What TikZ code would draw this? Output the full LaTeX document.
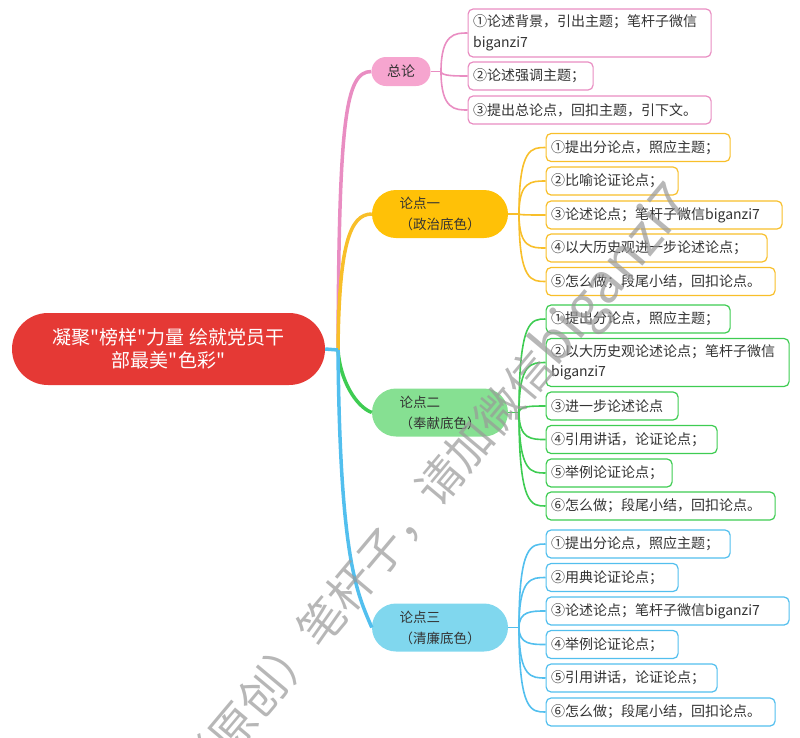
\documentclass[tikz,border=0pt]{standalone}
\usepackage{fontspec}
\setmainfont{Noto Sans CJK SC}
\newfontfamily\plainfont{Noto Sans CJK SC}
\usepackage{xcolor}

% Colours of the map
\definecolor{topicred}{HTML}{E53935}
\definecolor{pinkfill}{HTML}{F6A5CF}
\definecolor{pinkline}{HTML}{E98DC2}
\definecolor{yellowfill}{HTML}{FFC107}
\definecolor{yellowline}{HTML}{F8BF2A}
\definecolor{greenfill}{HTML}{86E092}
\definecolor{greenline}{HTML}{3ECC52}
\definecolor{bluefill}{HTML}{80D7EE}
\definecolor{blueline}{HTML}{52BFEE}
\definecolor{textgray}{HTML}{333333}

\tikzset{
  topicbox/.style={fill=topicred, text=white, rounded corners=36pt, minimum width=313pt,
    minimum height=72pt, align=center, font=\plainfont\fontsize{19}{23}\selectfont},
  pointbox/.style={fill=#1, text=textgray, rounded corners=24pt, minimum width=136pt,
    minimum height=48pt, align=left, font=\fontsize{13.5}{21}\selectfont},
  leafbox/.style={draw=#1, fill=white, text=textgray, line width=1.2pt, rounded corners=5pt,
    anchor=west, align=left, inner xsep=5pt, inner ysep=0pt, minimum height=28pt,
    font=\fontsize{14}{20.5}\selectfont},
  branch/.style={draw=#1, line width=3.5pt},
  twig/.style={draw=#1, line width=1.6pt},
  watermark/.style={text=black!40, text opacity=0.7, font=\fontsize{46}{46}\selectfont}
}

\begin{document}
\begin{tikzpicture}[x=1pt,y=-1pt]

            % Fix the page size
            \useasboundingbox (0,0) rectangle (800,737);

            % Define the columns of the leaves
            \def\introx{467.5}
            \def\leafx{545.5}

            % Main topic and the four branches
            \node[topicbox] (topic) at (168.5,349) {凝聚"榜样"力量 绘就党员干\\部最美"色彩"};
            \node[pointbox=pinkfill, minimum width=59pt, minimum height=29pt, rounded corners=14.5pt, align=center, font=\fontsize{14}{18}\selectfont] (intro) at (401,71.5) {总论};
            \node[pointbox=yellowfill] (pt1) at (440,214) {论点一\\（政治底色）};
            \node[pointbox=greenfill] (pt2) at (440,412.5) {论点二\\（奉献底色）};
            \node[pointbox=bluefill] (pt3) at (440,627.5) {论点三\\（清廉底色）};

            % Leaves of the introduction
            \node[leafbox=pinkline, text width=233pt, minimum height=48pt] (intro-1) at (\introx,33) {①论述背景，引出主题；笔杆子微信\\biganzi7};
            \node[leafbox=pinkline, text width=115pt] (intro-2) at (\introx,76) {②论述强调主题；};
            \node[leafbox=pinkline, text width=233pt] (intro-3) at (\introx,110) {③提出总论点，回扣主题，引下文。};

            % Leaves of the first point
            \node[leafbox=yellowline, text width=174pt] (pt1-1) at (\leafx,147.5) {①提出分论点，照应主题；};
            \node[leafbox=yellowline, text width=122pt] (pt1-2) at (\leafx,181) {②比喻论证论点；};
            \node[leafbox=yellowline, text width=226pt] (pt1-3) at (\leafx,215) {③论述论点；笔杆子微信biganzi7};
            \node[leafbox=yellowline, text width=211pt] (pt1-4) at (\leafx,248) {④以大历史观进一步论述论点；};
            \node[leafbox=yellowline, text width=219pt] (pt1-5) at (\leafx,281.5) {⑤怎么做；段尾小结，回扣论点。};

            % Leaves of the second point
            \node[leafbox=greenline, text width=174pt] (pt2-1) at (\leafx,319) {①提出分论点，照应主题；};
            \node[leafbox=greenline, text width=233pt, minimum height=48pt] (pt2-2) at (\leafx,362.5) {②以大历史观论述论点；笔杆子微信\\biganzi7};
            \node[leafbox=greenline, text width=122pt] (pt2-3) at (\leafx,406) {③进一步论述论点};
            \node[leafbox=greenline, text width=161pt] (pt2-4) at (\leafx,439.5) {④引用讲话，论证论点；};
            \node[leafbox=greenline, text width=116pt] (pt2-5) at (\leafx,473) {⑤举例论证论点；};
            \node[leafbox=greenline, text width=219pt] (pt2-6) at (\leafx,506) {⑥怎么做；段尾小结，回扣论点。};

            % Leaves of the third point
            \node[leafbox=blueline, text width=174pt] (pt3-1) at (\leafx,544) {①提出分论点，照应主题；};
            \node[leafbox=blueline, text width=122pt] (pt3-2) at (\leafx,577.5) {②用典论证论点；};
            \node[leafbox=blueline, text width=233pt] (pt3-3) at (\leafx,611) {③论述论点；笔杆子微信biganzi7};
            \node[leafbox=blueline, text width=122pt] (pt3-4) at (\leafx,644.5) {④举例论证论点；};
            \node[leafbox=blueline, text width=161pt] (pt3-5) at (\leafx,678) {⑤引用讲话，论证论点；};
            \node[leafbox=blueline, text width=219pt] (pt3-6) at (\leafx,712) {⑥怎么做；段尾小结，回扣论点。};

            % Branches from the main topic
            \coordinate (hub) at (338,350);
            \draw[branch=pinkline] (hub) .. controls +(1,-230) and +(-26,0) .. (intro.west);
            \draw[branch=yellowline] (hub) .. controls +(1,-105) and +(-22,0) .. (pt1.west);
            \draw[branch=greenline] (hub) .. controls +(2,30) and +(-16,-6) .. (pt2.west);
            \draw[branch=blueline] (topic.east) -- (hub);
            \draw[branch=blueline] (hub) .. controls +(2,210) and +(-15,-35) .. (pt3.west);

            % Twigs to the leaves
            \coordinate (introhub) at (441,71.5);
            \draw[twig=pinkline] (intro.east) -- (introhub);
            \foreach \n in {1,2,3}
              \draw[twig=pinkline] (introhub) .. controls (introhub |- intro-\n.west) and +(-12,0) .. (intro-\n.west);

            \coordinate (pt1hub) at (519,214);
            \draw[twig=yellowline] (pt1.east) -- (pt1hub);
            \foreach \n in {1,...,5}
              \draw[twig=yellowline] (pt1hub) .. controls (pt1hub |- pt1-\n.west) and +(-14,0) .. (pt1-\n.west);

            \coordinate (pt2hub) at (519,412.5);
            \draw[twig=greenline] (pt2.east) -- (pt2hub);
            \foreach \n in {1,...,6}
              \draw[twig=greenline] (pt2hub) .. controls (pt2hub |- pt2-\n.west) and +(-14,0) .. (pt2-\n.west);

            \coordinate (pt3hub) at (519,627.5);
            \draw[twig=blueline] (pt3.east) -- (pt3hub);
            \foreach \n in {1,...,6}
              \draw[twig=blueline] (pt3hub) .. controls (pt3hub |- pt3-\n.west) and +(-14,0) .. (pt3-\n.west);

            % Watermark across the map
            \node[watermark, rotate=50] (mark) at (437,488) {（原创）笔杆子，请加微信{\fontsize{55}{55}\selectfont biganzi7}};

\end{tikzpicture}
\end{document}
